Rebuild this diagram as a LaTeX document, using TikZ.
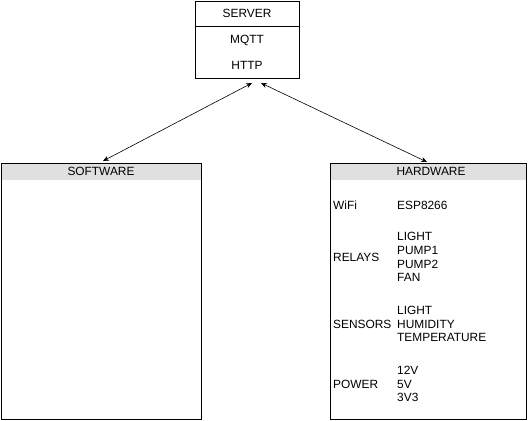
\documentclass[tikz,border=0pt]{standalone}
\usepackage{fontspec}
\setmainfont{Liberation Sans}
\usetikzlibrary{arrows.meta,calc}
\definecolor{hdr}{HTML}{E0E0E0}
\begin{document}
\begin{tikzpicture}[x=1pt,y=-1pt,
  txt/.style={font=\fontsize{11.9}{13.7}\selectfont, inner sep=0pt},
  lbl/.style={txt, anchor=west, align=left},
  box/.style={draw=black, line width=0.75pt, fill=white},
  arr/.style={{Stealth[length=6pt,width=5pt]}-{Stealth[length=6pt,width=5pt]}, line width=0.6pt}]
\useasboundingbox (0,0) rectangle (531,421);
% server
\draw[box] (195,1) rectangle (299,78);
\draw[line width=0.6pt] (195,26) -- (299,26);
\node[txt] (srvt) at (247,13.5) {SERVER};
\node[txt] (mqtt) at (247,40) {MQTT};
\node[txt] (http) at (247,65) {HTTP};
\coordinate (srvL) at (252,83);
\coordinate (srvR) at (261,83);
% software
\draw[box] (1,163) rectangle (201,419);
\fill[hdr] (1.4,163.4) rectangle (200.6,180);
\draw[line width=0.75pt] (1,163) rectangle (201,419);
\node[txt] (swt) at (101,171.5) {SOFTWARE};
\coordinate (swTop) at (103,161);
% hardware
\draw[box] (330,163) rectangle (526,419);
\fill[hdr] (330.4,163.4) rectangle (525.6,180);
\draw[line width=0.75pt] (330,163) rectangle (526,419);
\node[txt] (hwt) at (431,171.5) {HARDWARE};
\coordinate (hwTop) at (427,162);
% hardware content
\node[lbl] (wifi) at (333,205) {WiFi};
\node[lbl] (esp) at (397,205) {ESP8266};
\node[lbl] (rel) at (333,257) {RELAYS};
\node[lbl] (relv) at (397,257) {LIGHT\\PUMP1\\PUMP2\\FAN};
\node[lbl] (sen) at (333,324) {SENSORS};
\node[lbl] (senv) at (397,324) {LIGHT\\HUMIDITY\\TEMPERATURE};
\node[lbl] (pow) at (333,384) {POWER};
\node[lbl] (powv) at (397,384) {12V\\5V\\3V3};
% connectors
\draw[arr] (swTop) -- (srvL);
\draw[arr] (hwTop) -- (srvR);
\end{tikzpicture}
\end{document}
